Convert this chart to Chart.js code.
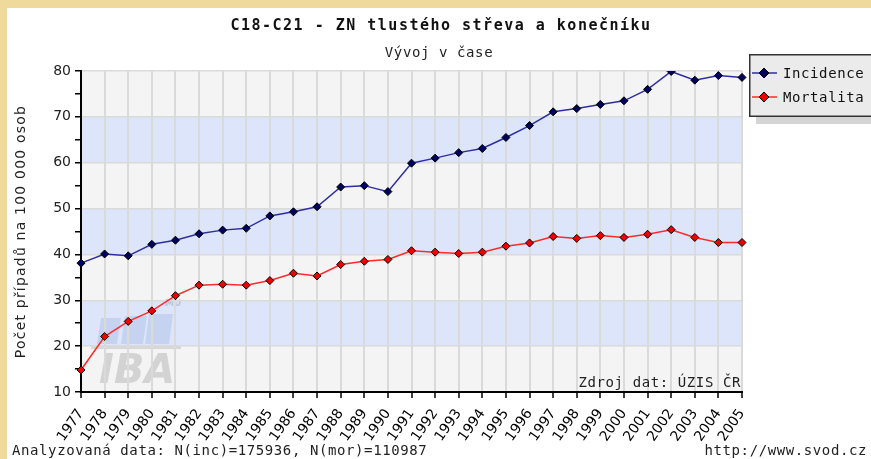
<!DOCTYPE html>
<html>
<head>
<meta charset="utf-8">
<script src="https://cdn.jsdelivr.net/npm/chart.js@4.4.1/dist/chart.umd.min.js"></script>
<style>
html,body{margin:0;padding:0;background:#fff;}
#wrap{position:relative;width:871px;height:459px;}
canvas{display:block;}
</style>
</head>
<body>
<div id="wrap"><canvas id="c" width="871" height="459"></canvas></div>
<script>
const years = ['1977','1978','1979','1980','1981','1982','1983','1984','1985','1986','1987','1988','1989','1990','1991','1992','1993','1994','1995','1996','1997','1998','1999','2000','2001','2002','2003','2004','2005'];
const incidence = [38.1,40.1,39.7,42.2,43.1,44.5,45.3,45.7,48.4,49.3,50.4,54.7,55.0,53.7,59.9,61.0,62.2,63.1,65.5,68.1,71.1,71.8,72.7,73.5,76.0,79.9,78.0,79.0,78.6];
const mortalita = [14.8,22.1,25.4,27.7,31.0,33.3,33.5,33.3,34.3,35.9,35.3,37.8,38.5,38.9,40.8,40.5,40.2,40.5,41.8,42.5,43.9,43.5,44.1,43.7,44.4,45.4,43.7,42.6,42.6];
const seriesNames = ['Incidence','Mortalita'];
const yTickValues = [10,20,30,40,50,60,70,80];
const titleText = 'C18-C21 - ZN tlustého střeva a konečníku';
const subtitleText = 'Vývoj v čase';
const yAxisTitle = 'Počet případů na 100 000 osob';
const sourceText = 'Zdroj dat: ÚZIS ČR';
const footerLeft = 'Analyzovaná data: N(inc)=175936, N(mor)=110987';
const footerRight = 'http://www.svod.cz';

const MONO = '"DejaVu Sans Mono", "Liberation Mono", monospace';
const SANS = '"DejaVu Sans", sans-serif';

const decor = {
  id: 'decor',
  beforeDraw(chart) {
    const ctx = chart.ctx;
    const W = chart.width, H = chart.height;
    ctx.save();
    ctx.fillStyle = '#efd99b';
    ctx.fillRect(0, 0, W, H);
    ctx.fillStyle = '#ffffff';
    ctx.fillRect(7, 8, W - 7, H - 8);
    // bands
    const a = chart.chartArea;
    const y = chart.scales.y;
    for (let i = 0; i < yTickValues.length - 1; i++) {
      const v0 = yTickValues[i], v1 = yTickValues[i + 1];
      const p0 = y.getPixelForValue(v0), p1 = y.getPixelForValue(v1);
      ctx.fillStyle = (i % 2 === 0) ? '#f4f4f4' : '#dce5fa';
      ctx.fillRect(a.left, p1, a.right - a.left, p0 - p1);
    }
    // IBA watermark (decoration)
    const wx = a.left, wy = a.bottom;
    ctx.fillStyle = 'rgba(120,150,210,0.22)';
    const para = (x, yy, w, h) => {
      ctx.beginPath();
      ctx.moveTo(x + 4, yy); ctx.lineTo(x + w + 4, yy); ctx.lineTo(x + w, yy + h); ctx.lineTo(x, yy + h); ctx.closePath(); ctx.fill();
    };
    para(wx + 16, wy - 74, 20, 26);
    para(wx + 40, wy - 76, 22, 28);
    para(wx + 64, wy - 78, 24, 30);
    ctx.fillStyle = 'rgba(150,150,150,0.3)';
    ctx.fillRect(wx + 10, wy - 46, 90, 3);
    ctx.font = 'italic bold 40px ' + SANS;
    ctx.fillStyle = 'rgba(170,170,170,0.45)';
    ctx.textAlign = 'left';
    ctx.textBaseline = 'alphabetic';
    ctx.fillText('IBA', wx + 18, wy - 9);
    ctx.font = 'bold 9px ' + SANS;
    ctx.fillStyle = 'rgba(150,160,190,0.5)';
    ctx.fillText('MU', wx + 84, wy - 86);
    ctx.restore();
  },
  afterDraw(chart) {
    const ctx = chart.ctx;
    const a = chart.chartArea;
    ctx.save();
    ctx.fillStyle = '#111';
    ctx.textBaseline = 'alphabetic';
    ctx.textAlign = 'center';
    ctx.font = 'bold 15px ' + MONO;
    ctx.letterSpacing = '1.5px';
    ctx.fillText(titleText, 441, 30);
    ctx.font = '14px ' + MONO;
    ctx.letterSpacing = '0.6px';
    ctx.fillStyle = '#222';
    ctx.fillText(subtitleText, 439, 57);
    ctx.textAlign = 'right';
    ctx.fillText(sourceText, a.right - 1, 387);
    ctx.textAlign = 'left';
    ctx.fillText(footerLeft, 12, 455);
    ctx.textAlign = 'right';
    ctx.fillText(footerRight, 867, 455);
    // y axis title
    ctx.save();
    ctx.translate(25, (a.top + a.bottom) / 2);
    ctx.rotate(-Math.PI / 2);
    ctx.textAlign = 'center';
    ctx.font = '14px ' + SANS;
    ctx.letterSpacing = '1.2px';
    ctx.fillStyle = '#222';
    ctx.fillText(yAxisTitle, 0, 0);
    ctx.restore();
    // legend
    const lx = 749, ly = 54, lw = 130, lh = 63;
    ctx.letterSpacing = '0.6px';
    ctx.fillStyle = '#d4d4d4';
    ctx.fillRect(lx + 7, ly + lh, lw, 7);
    ctx.fillStyle = '#ebebeb';
    ctx.fillRect(lx, ly, lw, lh);
    ctx.strokeStyle = '#333';
    ctx.lineWidth = 1.5;
    ctx.strokeRect(lx + 0.75, ly + 0.75, lw, lh - 1.5);
    chart.data.datasets.forEach((ds, i) => {
      const cy = ly + 19 + i * 24;
      ctx.strokeStyle = ds.borderColor;
      ctx.lineWidth = 1.5;
      ctx.beginPath();
      ctx.moveTo(lx + 3, cy);
      ctx.lineTo(lx + 28, cy);
      ctx.stroke();
      ctx.fillStyle = ds.pointBackgroundColor;
      ctx.strokeStyle = '#000';
      ctx.lineWidth = 1;
      const cx = lx + 15, r = 5;
      ctx.beginPath();
      ctx.moveTo(cx, cy - r); ctx.lineTo(cx + r, cy); ctx.lineTo(cx, cy + r); ctx.lineTo(cx - r, cy); ctx.closePath();
      ctx.fill(); ctx.stroke();
      ctx.fillStyle = '#111';
      ctx.textAlign = 'left';
      ctx.font = '14px ' + MONO;
      ctx.fillText(ds.label, lx + 34, cy + 5);
    });
    ctx.restore();
  }
};

new Chart(document.getElementById('c'), {
  type: 'line',
  data: {
    labels: years,
    datasets: [
      {
        label: seriesNames[0], data: incidence,
        borderColor: '#2e2ea0', borderWidth: 1.5,
        pointStyle: 'rectRot', pointRadius: 4, pointBackgroundColor: '#00005e',
        pointBorderColor: '#000', pointBorderWidth: 1, tension: 0
      },
      {
        label: seriesNames[1], data: mortalita,
        borderColor: '#ff2a2a', borderWidth: 1.5,
        pointStyle: 'rectRot', pointRadius: 4, pointBackgroundColor: '#ee0000',
        pointBorderColor: '#000', pointBorderWidth: 1, tension: 0
      }
    ]
  },
  options: {
    responsive: false,
    animation: false,
    devicePixelRatio: 1,
    layout: { padding: { top: 71, right: 129, bottom: 0, left: 0 } },
    plugins: { legend: { display: false }, title: { display: false }, tooltip: { enabled: false } },
    scales: {
      x: {
        offset: false,
        grid: { color: '#dadada', lineWidth: 2, tickColor: '#000', tickLength: 6, tickWidth: 1.5 },
        border: { color: '#000', width: 2 },
        ticks: { minRotation: 55, maxRotation: 55, autoSkip: false, color: '#000', padding: 8,
          font: { family: SANS, size: 14 } },
        afterFit(s) { s.height = 67; }
      },
      y: {
        min: 10, max: 80,
        grid: {
          color: (c) => (c.tick && c.tick.value % 10 === 0) ? '#dadada' : 'rgba(0,0,0,0)',
          lineWidth: 1.5, tickColor: '#000', tickLength: 6, tickWidth: 1.5
        },
        border: { color: '#000', width: 2 },
        ticks: { stepSize: 5, color: '#222', padding: 4,
          callback: (v) => (v % 10 === 0 ? v : ''),
          font: { family: SANS, size: 14 } },
        afterFit(s) { s.width = 81; }
      }
    }
  },
  plugins: [decor]
});
</script>
</body>
</html>
